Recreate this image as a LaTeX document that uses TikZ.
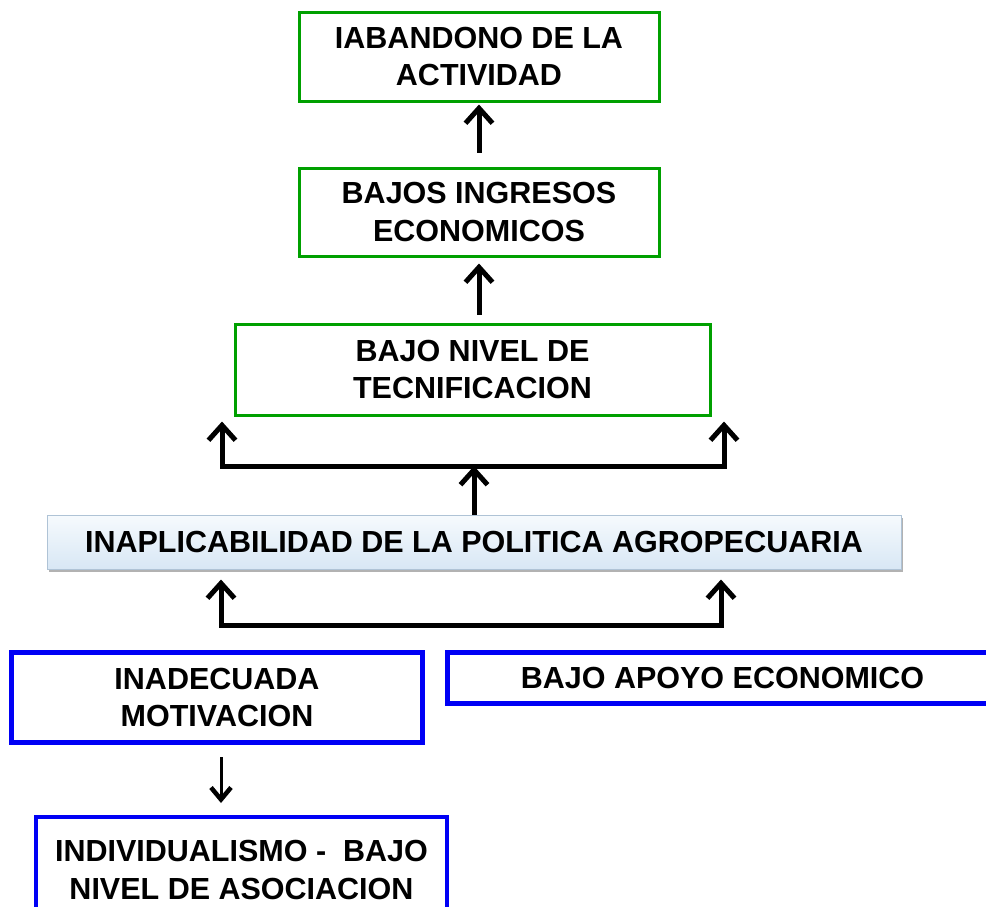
\documentclass[tikz,border=0pt]{standalone}
\usepackage{fontspec}
\setmainfont{Liberation Sans}
\usetikzlibrary{arrows.meta,shadows}
\definecolor{verde}{RGB}{0,160,0}
\definecolor{azul}{RGB}{0,0,245}
\definecolor{politop}{HTML}{F6FAFD}
\definecolor{polibot}{HTML}{D8E7F5}
\definecolor{poliborde}{HTML}{AFC3D6}
\begin{document}
\begin{tikzpicture}[x=1pt, y=-1pt,
    txt/.style = {align=center, inner sep=0pt,
      font=\fontsize{30.5}{37.5}\selectfont\bfseries},
    verdebox/.style = {txt, draw=verde, line width=3pt},
    azulbox/.style = {txt, draw=azul, line width=5pt},
    polibox/.style = {txt, draw=poliborde, line width=1pt,
      top color=politop, bottom color=polibot,
      drop shadow={shadow xshift=2pt, shadow yshift=-3pt, fill=black, opacity=0.3}},
    upar/.style = {line width=5pt,
      -{Straight Barb[length=15pt,width=27pt,line width=5pt]}},
    downar/.style = {line width=3pt,
      -{Straight Barb[length=12pt,width=20pt,line width=4.5pt]}}]
  \useasboundingbox (0,0) rectangle (986,906);

  \node[verdebox, minimum width=360pt, minimum height=89pt] (aband) at (479,56.5)
    {IABANDONO DE LA\\ACTIVIDAD};
  \node[verdebox, minimum width=360pt, minimum height=88pt] (ingr) at (479,212)
    {BAJOS INGRESOS\\ECONOMICOS};
  \node[verdebox, minimum width=475pt, minimum height=91pt] (tecn) at (472.5,369.5)
    {BAJO NIVEL DE\\TECNIFICACION};
  \node[polibox, minimum width=854pt, minimum height=54pt] (poli) at (474,542)
    {INAPLICABILIDAD DE LA POLITICA AGROPECUARIA};
  \node[azulbox, minimum width=411pt, minimum height=90pt] (motiv) at (217,697.5)
    {INADECUADA\\MOTIVACION};
  \node[azulbox, minimum width=551pt, minimum height=51pt] (apoyo) at (722.5,678)
    {BAJO APOYO ECONOMICO};
  \node[azulbox, line width=4pt, minimum width=411pt, minimum height=106pt] (indiv) at (241.5,870)
    {INDIVIDUALISMO -\ \ BAJO\\NIVEL DE ASOCIACION};

  % flechas hacia arriba
  \draw[upar, shorten <=14pt, shorten >=2pt] (ingr) -- (aband);
  \draw[upar, shorten <=8pt, shorten >=6pt] (tecn.north -| ingr) -- (ingr);

  \coordinate (l1) at (222,466);
  \coordinate (r1) at (724,466);
  \draw[line width=5pt, line cap=rect] (l1) -- (r1);
  \draw[upar] (poli.north) -- (poli.north |- l1);
  \draw[upar, shorten >=5pt] (l1) -- (l1 |- tecn.south);
  \draw[upar, shorten >=5pt] (r1) -- (r1 |- tecn.south);

  \coordinate (l2) at (221,625);
  \coordinate (r2) at (721,625);
  \draw[line width=5pt, line cap=rect] (l2) -- (r2);
  \draw[upar, shorten >=10pt] (l2) -- (l2 |- poli.south);
  \draw[upar, shorten >=10pt] (r2) -- (r2 |- poli.south);

  % flecha hacia abajo
  \draw[downar, shorten <=12pt, shorten >=12pt] (motiv.south -| l2) -- (indiv.north -| l2);
\end{tikzpicture}
\end{document}
